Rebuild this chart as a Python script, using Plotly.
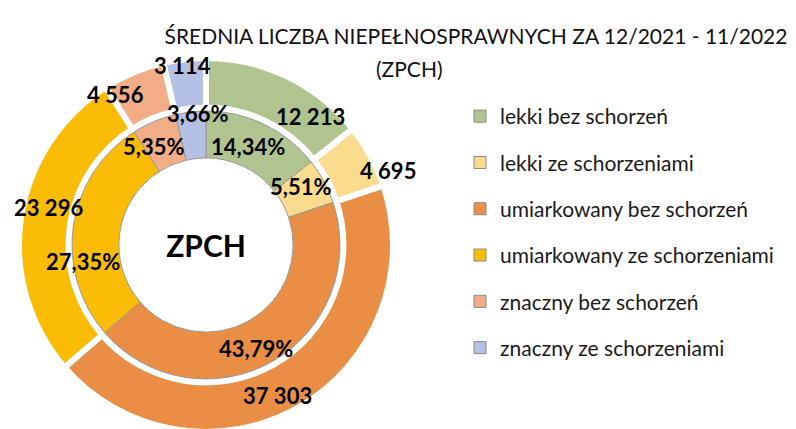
import math
import plotly.graph_objects as go

categories = ["lekki bez schorzeń", "lekki ze schorzeniami", "umiarkowany bez schorzeń",
              "umiarkowany ze schorzeniami", "znaczny bez schorzeń", "znaczny ze schorzeniami"]
values = [12213, 4695, 37303, 23296, 4556, 3114]
colors = ["#B0C48F", "#FBDC8E", "#EA8E45", "#FBBC05", "#F2AC86", "#B4C1E4"]

# ---- layout / style (pixels in figure coordinates) ----
W, H = 796, 429
cx, cy = 198, 237           # donut centre
R_out, R_in = 187, 134      # outer radii of the two rings
FONT = "Lato"
# manual label placement (angle offset from slice middle in degrees, radius px)
outer_lab = [(13.3, 165), (6.1, 197), (4.2, 167), (5.2, 162), (-8.3, 176), (-1.0, 181)]
inner_lab = [(-2.8, 107), (-3.6, 111), (4.0, 115), (-16.2, 124), (-5.2, 111), (2.7, 132)]


def dom(r):
    return dict(x=[(cx - r) / W, (cx + r) / W],
                y=[(H - cy - r) / H, (H - cy + r) / H])


total = sum(values)
mids, acc = [], 0.0
for v in values:
    mids.append((acc + v / 2) / total * 360.0)
    acc += v


def pos(theta_deg, r):
    t = math.radians(theta_deg)
    return (cx + r * math.sin(t)) / W, 1 - (cy - r * math.cos(t)) / H


fig = go.Figure()

fig.add_trace(go.Pie(
    labels=categories, values=values, sort=False, direction="clockwise", rotation=0,
    hole=0.735, domain=dom(R_out),
    marker=dict(colors=colors, line=dict(color="white", width=6)),
    textinfo="none", showlegend=False, hoverinfo="label+value"))

fig.add_trace(go.Pie(
    labels=categories, values=values, sort=False, direction="clockwise", rotation=0,
    hole=0.65, domain=dom(R_in),
    marker=dict(colors=colors, line=dict(color="#9a9a9a", width=1)),
    textinfo="none",
    title=dict(text="<b>ZPCH</b>", position="middle center",
               font=dict(family=FONT, size=30, color="black")),
    showlegend=False, hoverinfo="label+percent"))

# legend entries
for i, (c, col) in enumerate(zip(categories, colors)):
    fig.add_trace(go.Scatter(
        x=[None], y=[None], mode="markers", name=c, legendgroup=str(i),
        marker=dict(symbol="square", size=12, color=col, line=dict(color="#8a8a8a", width=1))))

annotations = []
lab_font = dict(family=FONT, size=22, color="black", weight="bold")
for v, m, (d, r) in zip(values, mids, outer_lab):
    x, y = pos(m + d, r)
    annotations.append(dict(text=f"{v:,}".replace(",", " "), x=x, y=y, xref="paper", yref="paper",
                            xanchor="center", yanchor="middle", showarrow=False, font=lab_font))
for v, m, (d, r) in zip(values, mids, inner_lab):
    x, y = pos(m + d, r)
    pct = f"{v / total * 100:.2f}".replace(".", ",") + "%"
    annotations.append(dict(text=pct, x=x, y=y, xref="paper", yref="paper",
                            xanchor="center", yanchor="middle", showarrow=False, font=lab_font))

annotations.append(dict(text="(ZPCH)", x=401 / W, y=1 - 60 / H, xref="paper", yref="paper",
                        xanchor="center", yanchor="middle", showarrow=False,
                        font=dict(family=FONT, size=21, color="#111111")))

fig.update_layout(
    width=W, height=H, margin=dict(l=0, r=0, t=0, b=0),
    paper_bgcolor="white", plot_bgcolor="white",
    separators=", ",
    xaxis=dict(visible=False), yaxis=dict(visible=False),
    title=dict(text="ŚREDNIA LICZBA NIEPEŁNOSPRAWNYCH ZA 12/2021 - 11/2022",
               x=468 / W, xanchor="center", y=1 - 29 / H, yanchor="middle",
               font=dict(family=FONT, size=21, color="#111111")),
    annotations=annotations,
    legend=dict(x=452 / W, y=1 - 88 / H, xanchor="left", yanchor="top",
                font=dict(family=FONT, size=21, color="#1a1a1a"),
                tracegroupgap=16, bgcolor="rgba(0,0,0,0)"),
)

fig.write_html("out.html")
